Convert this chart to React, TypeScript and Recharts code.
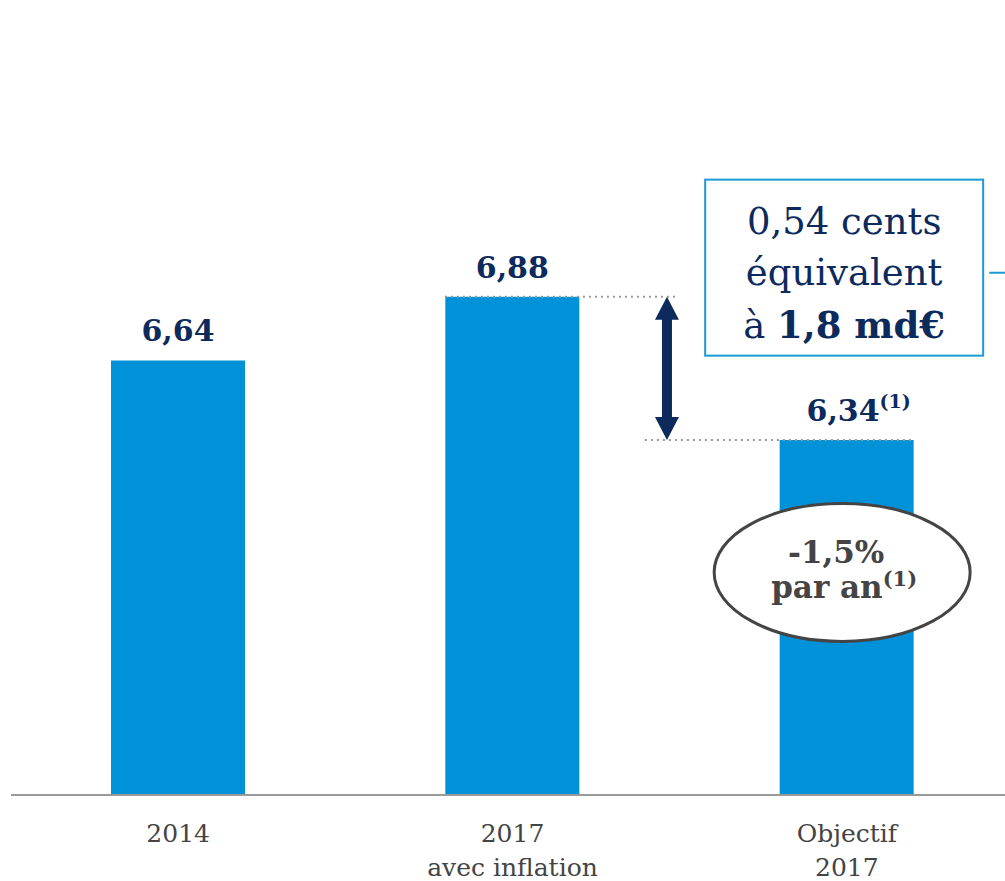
import { BarChart, Bar, XAxis, YAxis, LabelList, ReferenceLine, ReferenceDot } from 'recharts';

// categories (multi-line tick labels) and values
const categoryLines = [['2014'], ['2017', 'avec inflation'], ['Objectif', '2017']];
const values = [6.64, 6.88, 6.34];
const valueNotes = ['', '', '(1)'];

// annotation anchors, in data coordinates
const gapTop = 6.88;
const gapBottom = 6.34;
const arrowX = 1.962;
const topLineFrom = 1.298;
const topLineTo = 1.995;
const bottomLineFrom = 1.896;
const bottomLineTo = 2.698;
const boxAnchor = { x: 2.492, y: 6.99 };
const boxLines = ['0,54 cents', 'équivalent'];
const bubbleAnchor = { x: 2.486, y: 5.84 };

const data = values.map((v, i) => ({ x: i + 0.5, v }));

const FONT = '"DejaVu Serif", serif';
const NAVY = '#0d2a5c';
const BLUE = '#0092d8';
const GREY = '#444444';

const fmt = (n: number) => n.toFixed(2).replace('.', ',');

function ValueLabel(props: any) {
    const { x, y, width, value, index } = props;
    const note = valueNotes[index];
    return (
        <text x={x + width / 2 + (note ? 12 : 0)} y={y - 19} textAnchor="middle" fill={NAVY}
            fontFamily={FONT} fontWeight="bold" fontSize={30}>
            {fmt(value)}
            {note ? <tspan fontSize={19} dy={-13}>{note}</tspan> : null}
        </text>
    );
}

function CategoryTick(props: any) {
    const { x, y, index } = props;
    const lines = categoryLines[index] || [];
    return (
        <text x={x} y={y} textAnchor="middle" fill={GREY} fontFamily={FONT} fontSize={25}>
            {lines.map((l, i) => (
                <tspan key={i} x={x} dy={i === 0 ? 39 : 34}>{l}</tspan>
            ))}
        </text>
    );
}

function DoubleArrow(props: any) {
    const { x1, y1, y2 } = props;
    const hw = 12, hh = 23, sw = 5;
    const top = Math.min(y1, y2), bot = Math.max(y1, y2);
    const pts = [
        [x1, top], [x1 + hw, top + hh], [x1 + sw, top + hh], [x1 + sw, bot - hh],
        [x1 + hw, bot - hh], [x1, bot], [x1 - hw, bot - hh], [x1 - sw, bot - hh],
        [x1 - sw, top + hh], [x1 - hw, top + hh],
    ];
    return <polygon points={pts.map((p) => p.join(',')).join(' ')} fill={NAVY} />;
}

function NoteBox(props: any) {
    const { cx, cy } = props;
    const w = 278, h = 176;
    return (
        <g>
            <rect x={cx - w / 2} y={cy - h / 2} width={w} height={h} fill="#fff" stroke="#1a9ad8" strokeWidth={2} />
            <line x1={cx + w / 2 + 6} y1={cy + 5} x2={cx + w / 2 + 40} y2={cy + 5} stroke="#1a9ad8" strokeWidth={2} />
            <text textAnchor="middle" fill={NAVY} fontFamily={FONT} fontSize={37}>
                <tspan x={cx} y={cy - 34}>{boxLines[0]}</tspan>
                <tspan x={cx} y={cy + 17}>{boxLines[1]}</tspan>
                <tspan x={cx} y={cy + 70}>à <tspan fontWeight="bold">1,8 md€</tspan></tspan>
            </text>
        </g>
    );
}

function Bubble(props: any) {
    const { cx, cy } = props;
    return (
        <g>
            <ellipse cx={cx} cy={cy} rx={128} ry={69} fill="#fff" stroke={GREY} strokeWidth={3} />
            <text textAnchor="middle" fill={GREY} fontFamily={FONT} fontWeight="bold" fontSize={31}>
                <tspan x={cx - 6} y={cy - 9}>-1,5%</tspan>
                <tspan x={cx + 2} y={cy + 26}>par an<tspan fontSize={21} dy={-12}>(1)</tspan></tspan>
            </text>
        </g>
    );
}

export default function App() {
    return (
        <div style={{ position: 'absolute', left: 0, top: 0, width: 1005, height: 881, overflow: 'hidden', background: '#fff' }}>
            <BarChart width={1014} height={881} data={data} margin={{ top: 0, right: 0, left: 11, bottom: 0 }}>
                <XAxis dataKey="x" type="number" domain={[0, 3]} ticks={[0.5, 1.5, 2.5]} height={86}
                    axisLine={{ stroke: '#9a9a9a', strokeWidth: 2 }} tickLine={false} tick={<CategoryTick />} />
                <YAxis hide domain={[5, 8]} allowDataOverflow />
                <Bar dataKey="v" fill={BLUE} barSize={134} isAnimationActive={false}>
                    <LabelList dataKey="v" content={<ValueLabel />} />
                </Bar>
                <ReferenceLine segment={[{ x: topLineFrom, y: gapTop }, { x: topLineTo, y: gapTop }]}
                    stroke="#999" strokeWidth={2} strokeDasharray="2 4" />
                <ReferenceLine segment={[{ x: bottomLineFrom, y: gapBottom }, { x: bottomLineTo, y: gapBottom }]}
                    stroke="#999" strokeWidth={2} strokeDasharray="2 4" />
                <ReferenceLine segment={[{ x: arrowX, y: gapTop }, { x: arrowX, y: gapBottom }]} shape={<DoubleArrow />} />
                <ReferenceDot x={boxAnchor.x} y={boxAnchor.y} shape={<NoteBox />} />
                <ReferenceDot x={bubbleAnchor.x} y={bubbleAnchor.y} shape={<Bubble />} />
            </BarChart>
        </div>
    );
}
